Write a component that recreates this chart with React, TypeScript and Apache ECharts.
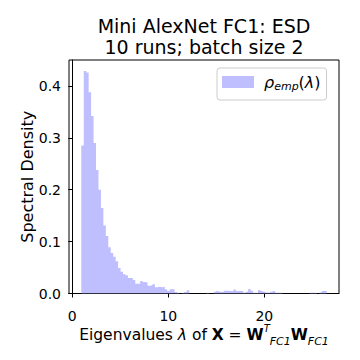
import React, { useEffect, useRef } from "react";
import * as echarts from "echarts";

// Histogram (density) heights, one per bin
const BIN_START = 0.94;
const BIN_WIDTH = 0.2556;
const DENSITY: number[] = [
  0.285, 0.429, 0.426, 0.388, 0.342, 0.29, 0.238, 0.2, 0.165, 0.131,
  0.111, 0.089, 0.078, 0.071, 0.062, 0.049, 0.042, 0.037, 0.035, 0.03,
  0.03, 0.026, 0.019, 0.019, 0.024, 0.022, 0.021, 0.015, 0.016, 0.018,
  0.012, 0.013, 0.012, 0.013, 0.008, 0.005, 0.008, 0.008, 0.003, 0.0015,
  0, 0.0015, 0.003, 0.0065, 0, 0, 0, 0, 0, 0,
  0, 0.0015, 0, 0, 0.0035, 0.005, 0.0035, 0.003, 0.0055, 0.0055,
  0.005, 0.005, 0.0077, 0.005, 0.005, 0.005, 0.0016, 0.0035, 0.0087, 0.0055,
  0.0016, 0.0016, 0.0067, 0.005, 0.0035, 0.002, 0.0016, 0.0035, 0.005, 0.0016,
  0.0016, 0.0016, 0, 0, 0, 0, 0, 0, 0, 0,
  0, 0, 0, 0.0016, 0.0016, 0.0016, 0, 0.002, 0.005, 0.005,
];
const X_TICKS = [0, 10, 20];
const Y_TICKS = [0, 0.1, 0.2, 0.3, 0.4];
const X_RANGE = [-0.34, 27.78];
const Y_RANGE = [0, 0.45];
const SERIES_NAME = "rho_emp";
const TITLE = "Mini AlexNet FC1: ESD\n10 runs; batch size 2";
const Y_NAME = "Spectral Density";

const FONT = "DejaVu Sans";
const BAR_COLOR = "#bfbfff";

export default function App() {
  const ref = useRef<HTMLDivElement>(null);
  useEffect(() => {
    if (!ref.current) return;
    const chart = echarts.init(ref.current, null, { renderer: "svg" });
    // step outline of the histogram: each bin's left edge with its height, plus the last right edge
    const stepData: number[][] = DENSITY.map((h, i) => [BIN_START + i * BIN_WIDTH, h]);
    stepData.push([BIN_START + DENSITY.length * BIN_WIDTH, DENSITY[DENSITY.length - 1]]);
    chart.setOption({
      animation: false,
      backgroundColor: "#ffffff",
      textStyle: { fontFamily: FONT },
      title: {
        text: TITLE,
        left: 204,
        top: 15,
        padding: 0,
        textAlign: "center",
        textStyle: {
          fontFamily: FONT,
          fontSize: 19,
          lineHeight: 21,
          fontWeight: "normal",
          color: "#000",
        },
      },
      legend: {
        left: 217,
        top: 68,
        icon: "rect",
        itemWidth: 32,
        itemHeight: 12,
        padding: [6, 6, 8, 5],
        borderColor: "#cccccc",
        borderWidth: 1,
        borderRadius: 3,
        backgroundColor: "rgba(255,255,255,0.8)",
        data: [{ name: SERIES_NAME, itemStyle: { color: BAR_COLOR } }],
        formatter: () => "{g| }{r|ρ}{s|emp}{p|(}{r|λ}{p|)}",
        textStyle: {
          color: "#000",
          fontFamily: FONT,
          fontSize: 16,
          rich: {
            g: { width: 5, fontSize: 16, lineHeight: 20 },
            r: { fontStyle: "italic", fontSize: 16, fontFamily: FONT, color: "#000", lineHeight: 20, verticalAlign: "middle" },
            s: { fontStyle: "italic", fontSize: 11, fontFamily: FONT, color: "#000", lineHeight: 20, verticalAlign: "bottom" },
            p: { fontSize: 16, fontFamily: FONT, color: "#000", lineHeight: 20, verticalAlign: "middle" },
          },
        },
      },
      grid: {
        left: 69,
        right: 21,
        top: 60,
        bottom: 66.5,
        show: true,
        borderColor: "#000",
        borderWidth: 1,
        backgroundColor: "transparent",
      },
      xAxis: {
        type: "value",
        min: X_RANGE[0],
        max: X_RANGE[1],
        axisLine: { show: true, onZero: false, lineStyle: { color: "#000", width: 1 } },
        axisTick: { show: true, customValues: X_TICKS, length: 4, lineStyle: { color: "#000" } },
        axisLabel: {
          customValues: X_TICKS,
          formatter: (v: number) => String(v),
          color: "#000",
          fontSize: 14,
          fontFamily: FONT,
          margin: 6,
          lineHeight: 32,
        },
        splitLine: { show: false },
        name: "{n|Eigenvalues }{i|λ}{n| of }{b|X}{n| = }{b|W}{sup|T}{sub|FC1}{b|W}{sub|FC1}",
        nameLocation: "middle",
        nameGap: 29,
        nameMoveOverlap: false,
        nameTextStyle: {
          color: "#000",
          fontFamily: FONT,
          fontSize: 15.5,
          rich: {
            n: { fontSize: 15.5, fontFamily: FONT, color: "#000", lineHeight: 24, verticalAlign: "middle" },
            i: { fontSize: 15.5, fontFamily: FONT, fontStyle: "italic", color: "#000", lineHeight: 24, verticalAlign: "middle" },
            b: { fontSize: 15.5, fontFamily: FONT, fontWeight: "bold", color: "#000", lineHeight: 24, verticalAlign: "middle" },
            sup: { fontSize: 10, fontFamily: FONT, fontStyle: "italic", color: "#000", lineHeight: 10, verticalAlign: "top", padding: [1, 0, 0, 0] },
            sub: { fontSize: 11, fontFamily: FONT, fontStyle: "italic", color: "#000", lineHeight: 11, verticalAlign: "bottom" },
          },
        },
      },
      yAxis: {
        type: "value",
        min: Y_RANGE[0],
        max: Y_RANGE[1],
        axisLine: { show: true, lineStyle: { color: "#000", width: 1 } },
        axisTick: { show: true, customValues: Y_TICKS, length: 4, lineStyle: { color: "#000" } },
        axisLabel: {
          customValues: Y_TICKS,
          formatter: (v: number) => v.toFixed(1),
          color: "#000",
          fontSize: 14,
          fontFamily: FONT,
          margin: 8,
        },
        splitLine: { show: false },
        name: Y_NAME,
        nameLocation: "middle",
        nameGap: 34,
        nameMoveOverlap: false,
        nameTextStyle: { color: "#000", fontFamily: FONT, fontSize: 16 },
      },
      series: [
        {
          name: SERIES_NAME,
          type: "line",
          step: "end",
          data: stepData,
          showSymbol: false,
          symbol: "none",
          itemStyle: { color: BAR_COLOR },
          lineStyle: { width: 0, color: BAR_COLOR },
          areaStyle: { color: BAR_COLOR, opacity: 1, origin: "start" },
          silent: true,
        },
      ],
    });
    return () => chart.dispose();
  }, []);
  return (
    <div
      ref={ref}
      style={{ position: "fixed", left: 0, top: 0, width: 360, height: 360, background: "#fff" }}
    />
  );
}
